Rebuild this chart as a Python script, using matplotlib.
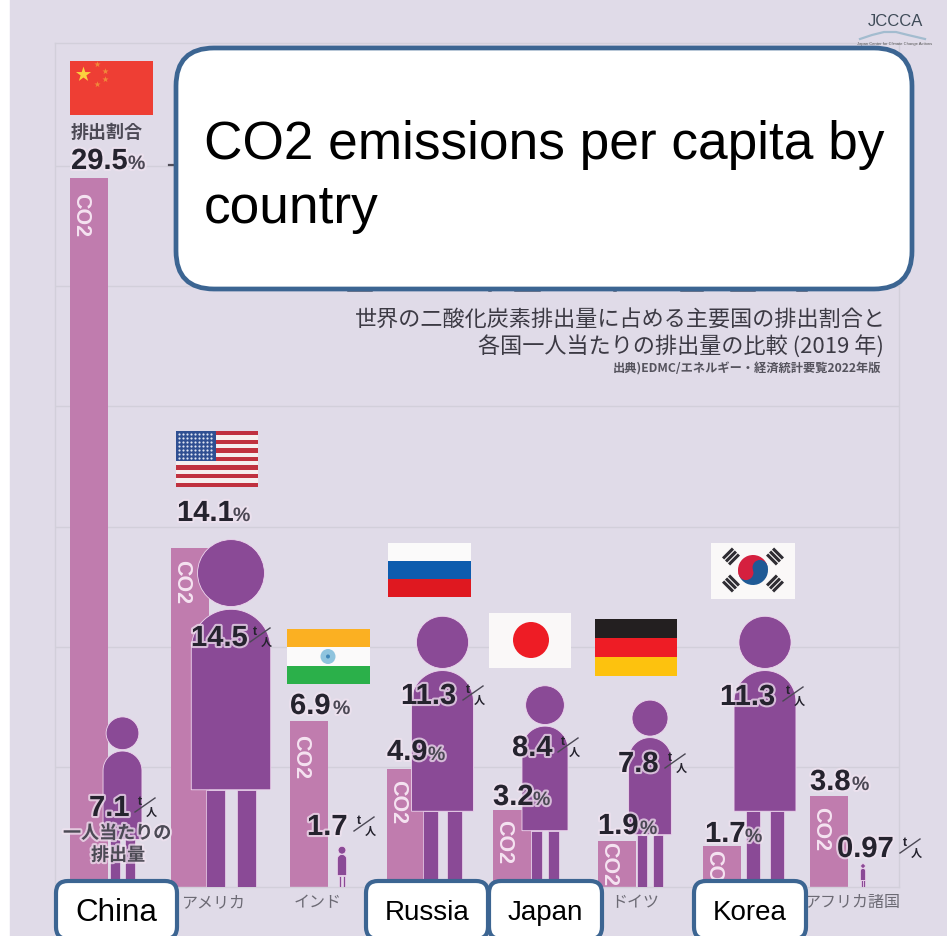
#!/usr/bin/env python3
"""Per-capita CO2 infographic: share bars, person pictograms, flags and call-outs."""
import numpy as np
import matplotlib
matplotlib.use("Agg")
import matplotlib.pyplot as plt
from matplotlib.patches import Rectangle, Circle, Ellipse, Polygon, FancyBboxPatch, Wedge
import matplotlib.patheffects as pe

W, H = 947, 937
SANS = ["Liberation Sans", "DejaVu Sans"]
CJK = ["Noto Sans CJK JP", "DejaVu Sans"]

# ---- data ----
countries = ["China", "USA", "India", "Russia", "Japan", "Germany", "Korea", "Africa"]
share_pct = [29.5, 14.1, 6.9, 4.9, 3.2, 1.9, 1.7, 3.8]
per_capita = [7.1, 14.5, 1.7, 11.3, 8.4, 7.8, 11.3, 0.97]
jp_names = ["", "アメリカ", "インド", "", "", "ドイツ", "", "アフリカ諸国"]

# ---- layout (pixels) ----
BG, WHITE_STRIP, GRID = "#e0dbe8", "#ffffff", "#d2cfda"
BAR, PERSON, INK, EDGE = "#c07cae", "#8a4a96", "#25232e", "#3c6592"
BASE_Y, TOP_Y, LEFT_X, RIGHT_X = 888, 44, 55, 899
PX_PER_UNIT = 24.03
BAR_W = 38
bar_left = [70, 171, 290, 387, 493, 598, 703, 810]
person_x = [122.5, 231, 342, 442.5, 545, 650, 765, 863]
tag_offset = [14, 11, 13, 10, 9, 0, 3, 10]
# number left edge, baseline, percent sign left edge
share_lbl = [(71, 170, 128), (177, 522, 233), (290, 715, 333), (387, 761, 428),
             (493, 806, 533), (598, 835, 640), (705, 843, 745), (810, 791, 852)]
# number left edge, baseline, unit left edge
capita_lbl = [(89, 817, 135), (191, 647, 250), (307, 836, 354), (401, 705, 463),
              (512, 757, 558), (618, 773, 665), (720, 706, 783), (837, 858, 900)]

plt.rcParams["font.family"] = SANS
fig = plt.figure(figsize=(W / 100, H / 100), dpi=100, facecolor=WHITE_STRIP)
fig.patches.append(Rectangle((10 / W, 0), 1 - 10 / W, 1, transform=fig.transFigure, color=BG, zorder=-5))

# chart axes: x stays in pixels, y is the value shared by bars and pictograms
ax = fig.add_axes([LEFT_X / W, (H - BASE_Y) / H, (RIGHT_X - LEFT_X) / W, (BASE_Y - TOP_Y) / H], zorder=1)
ax.patch.set_alpha(0)
ax.set_xlim(LEFT_X, RIGHT_X)
ax.set_ylim(0, (BASE_Y - TOP_Y) / PX_PER_UNIT)
ax.set_yticks(range(5, 35, 5))
ax.set_xticks([])
ax.tick_params(left=False, labelleft=False)
ax.grid(axis="y", color=GRID, lw=1)
ax.set_axisbelow(True)
for s in ax.spines.values():
    s.set_color(GRID)
    s.set_linewidth(1)

# overlay axes in figure pixels for flags, labels and call-outs
ov = fig.add_axes([0, 0, 1, 1], zorder=2)
ov.set_xlim(0, W)
ov.set_ylim(H, 0)
ov.axis("off")


def person(cx, h):
    """Pictogram whose total height equals the value h on the y axis."""
    hpx = h * PX_PER_UNIT
    bw = 0.228 * hpx
    r = 0.096 * hpx
    y = lambda frac: h * (1 - frac)   # fraction measured down from the top of the head
    halo = "#eed6ee"
    ax.add_patch(Ellipse((cx, y(0.099)), 2 * r, 2 * r / PX_PER_UNIT, fc=PERSON, ec=halo, lw=0.6, zorder=4))
    t = np.linspace(np.pi, 0, 40)
    dome_r = bw / 2
    dx = cx + dome_r * np.cos(t)
    dy = y(0.203) - dome_r / PX_PER_UNIT + dome_r * np.sin(t) / PX_PER_UNIT
    body = list(zip(dx, dy)) + [(cx + bw / 2, y(0.721)), (cx - bw / 2, y(0.721))]
    ax.add_patch(Polygon(body, closed=True, fc=PERSON, ec=halo, lw=0.6, zorder=4))
    leg_w, gap = 0.0535 * hpx, 0.034 * hpx
    for x0 in (cx - gap / 2 - leg_w, cx + gap / 2):
        ax.add_patch(Rectangle((x0, 0), leg_w, y(0.721), fc=PERSON, ec=halo, lw=0.5, zorder=3.5))


for left, pct in zip(bar_left, share_pct):
    ax.bar(left, pct, width=BAR_W, align="edge", color=BAR, zorder=2)
for cx, val in zip(person_x, per_capita):
    person(cx, val)

# rotated CO2 tags near the top of each bar
for left, pct, off in zip(bar_left, share_pct, tag_offset):
    top = BASE_Y - pct * PX_PER_UNIT
    ov.text(left + 11, top + off, "CO2", rotation=-90, ha="center", va="top", color="#f5e3f1",
            fontsize=15.5, fontweight="bold", zorder=3)

halo = [pe.withStroke(linewidth=3, foreground="#efe2ef", alpha=0.75)]


def unit_mark(x, base):
    """Small stacked t / 人 unit drawn after a per-capita value."""
    ov.plot([x, x + 20], [base - 4, base - 18], color="#4b4854", lw=1, zorder=6)
    ov.text(x + 5, base - 15, "t", ha="center", va="center", fontsize=9, fontweight="bold", color=INK, zorder=6)
    ov.text(x + 16, base - 5, "人", ha="center", va="center", fontsize=8, family=CJK, fontweight="bold", color=INK, zorder=6)


for pct, (x, base, px) in zip(share_pct, share_lbl):
    ov.text(x, base, f"{pct}", ha="left", va="baseline", fontsize=21, fontweight="bold", color=INK,
            path_effects=halo, zorder=6)
    ov.text(px, base, "%", ha="left", va="baseline", fontsize=14, fontweight="bold", color="#4b4854",
            path_effects=halo, zorder=6)
for val, (x, base, ux) in zip(per_capita, capita_lbl):
    ov.text(x, base, f"{val}", ha="left", va="baseline", fontsize=21, fontweight="bold", color=INK,
            path_effects=halo, zorder=6)
    unit_mark(ux, base)

# ---- Japanese captions ----
ov.text(107, 132, "排出割合", ha="center", va="center", family=CJK, fontsize=13, fontweight="bold", color="#4c4a55", zorder=6)
ov.text(117, 834, "一人当たりの", ha="center", va="center", family=CJK, fontsize=13, fontweight="bold", color="#4c4a55",
        path_effects=halo, zorder=6)
ov.text(118, 856, "排出量", ha="center", va="center", family=CJK, fontsize=13, fontweight="bold", color="#4c4a55",
        path_effects=halo, zorder=6)
ov.text(886, 320, "世界の二酸化炭素排出量に占める主要国の排出割合と", ha="right", va="center", family=CJK, fontsize=15.9, color="#3c3a44")
ov.text(884, 346, "各国一人当たりの排出量の比較 (2019 年)", ha="right", va="center", family=CJK, fontsize=15.9, color="#3c3a44")
ov.text(881, 369, "出典)EDMC/エネルギー・経済統計要覧2022年版", ha="right", va="center", family=CJK, fontsize=8.8, fontweight="bold", color="#55535d")
for name, cx in zip(jp_names, [0, 213, 318, 0, 0, 635, 0, 852]):
    if name:
        ov.text(cx, 903, name, ha="center", va="center", family=CJK, fontsize=11.5, color="#6c6a74", zorder=3)

# dark specks left along the edge of the heading box
for x0, x1 in [(348, 372), (489, 491), (515, 540), (614, 616), (681, 703), (731, 755), (797, 807)]:
    ov.plot([x0, x1], [292, 292], color="#3b3d50", lw=1.1, alpha=0.8, zorder=2)
ov.plot([169, 174], [166, 166], color="#2e2c36", lw=1.6, alpha=0.8, zorder=2)


# ---- flags ----
def flag_rect(x0, y0, x1, y1, color, z=3):
    ov.add_patch(Rectangle((x0, y0), x1 - x0, y1 - y0, fc=color, ec="none", zorder=z))


# China
flag_rect(70, 62, 153, 116, "#ee3e34")
ov.scatter([83], [75], marker="*", s=130, c="#fbd33f", linewidths=0, zorder=4)
ov.scatter([97, 105, 105, 97], [65, 72, 80, 85], marker="*", s=22, c="#f08a3a", linewidths=0, zorder=4)
# USA
for i in range(13):
    flag_rect(176, 432 + i * 56 / 13, 258, 432 + (i + 1) * 56 / 13, "#c0313f" if i % 2 == 0 else "#f5eeee")
flag_rect(176, 432, 216, 462, "#2f4f92")
gx, gy = np.meshgrid(np.arange(179, 215, 4), np.arange(435, 461, 4))
ov.scatter(gx.ravel(), gy.ravel(), s=2.5, c="#dfe5f2", linewidths=0, zorder=4)
# India
flag_rect(287, 630, 370, 648, "#fbb022")
flag_rect(287, 648, 370, 667, "#fbfafa")
flag_rect(287, 667, 370, 685, "#2bb04a")
ov.add_patch(Circle((328, 657.5), 7.5, fc="#8fc4de", ec="none", zorder=4))
ov.add_patch(Circle((328, 657.5), 2, fc="#3f86b8", ec="none", zorder=4))
# Russia
flag_rect(388, 544, 471, 562, "#fbfafa")
flag_rect(388, 562, 471, 580, "#0d5cae")
flag_rect(388, 580, 471, 598, "#df1820")
# Japan
flag_rect(489, 614, 571, 669, "#faf8f8")
ov.add_patch(Circle((531, 641), 18, fc="#ee1c25", ec="none", zorder=4))
# Germany
flag_rect(595, 620, 677, 639, "#231f20")
flag_rect(595, 639, 677, 658, "#ee1c25")
flag_rect(595, 658, 677, 677, "#fdc20e")
# Korea
flag_rect(711, 544, 795, 600, "#faf8f8")
kx, ky = 753, 571
ov.add_patch(Wedge((kx, ky), 15, 160, 340, fc="#d5203f", ec="none", zorder=4))
ov.add_patch(Wedge((kx, ky), 15, -20, 160, fc="#1f5a96", ec="none", zorder=4))
tilt = np.radians(20)
ov.add_patch(Circle((kx - 7.5 * np.cos(tilt), ky + 7.5 * np.sin(tilt)), 7.5, fc="#d5203f", ec="none", zorder=5))
ov.add_patch(Circle((kx + 7.5 * np.cos(tilt), ky - 7.5 * np.sin(tilt)), 7.5, fc="#1f5a96", ec="none", zorder=5))
for sx_, sy_ in [(-1, -1), (1, -1), (-1, 1), (1, 1)]:
    bx, by = kx + sx_ * 22, ky + sy_ * 13.5
    rx, ry = sx_ * 0.707, sy_ * 0.707
    for k in (-4.2, 0, 4.2):
        ox, oy = bx + rx * k, by + ry * k
        ov.plot([ox - ry * 7, ox + ry * 7], [oy + rx * 7, oy - rx * 7], color="#2f2d33", lw=2.2,
                solid_capstyle="butt", zorder=4)


# ---- logo ----
ov.text(895, 22, "JCCCA", ha="center", va="center", fontsize=12, family=SANS, color="#3f4b58")
sx = np.array([860, 872, 884, 896, 908, 925])
ov.plot(sx, [40, 36, 33, 33, 36, 40], color="#a3bccf", lw=1.6)
ov.text(895, 43.5, "Japan Center for Climate Change Actions", ha="center", va="center", fontsize=3, color="#555")


# ---- call-outs ----
def callout(x0, y0, x1, y1, rad, lw=3.2):
    ov.add_patch(FancyBboxPatch((x0 + rad, y0 + rad), x1 - x0 - 2 * rad, y1 - y0 - 2 * rad,
                                boxstyle=f"round,pad={rad},rounding_size={rad}",
                                fc="white", ec=EDGE, lw=lw, zorder=10, clip_on=True))


callout(176, 49, 912, 290, 38, lw=3.4)
ov.text(204, 159, "CO2 emissions per capita by", ha="left", va="baseline", fontsize=38.3, color="black", zorder=11)
ov.text(204, 223, "country", ha="left", va="baseline", fontsize=38.3, color="black", zorder=11)
for x0, x1, name, size in [(56, 177, "China", 22.6), (366, 488, "Russia", 20), (489, 602, "Japan", 20), (694, 806, "Korea", 20)]:
    callout(x0, 882, x1, 940, 12, lw=3)
    ov.text((x0 + x1) / 2, 913, name, ha="center", va="center", fontsize=size, color="black", zorder=11)

fig.savefig("out.png", dpi=100, facecolor=fig.get_facecolor())
